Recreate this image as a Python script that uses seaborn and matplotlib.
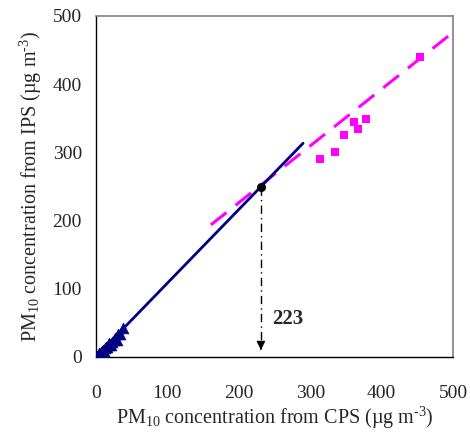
import matplotlib
matplotlib.use("Agg")
import matplotlib.pyplot as plt
import seaborn as sns
import numpy as np
import pandas as pd

# ---- data ----
low_cps = [2, 4, 5, 6, 7, 9, 10, 11, 13, 14, 16, 18, 19, 21, 23, 25, 27, 29, 31, 34, 38]
low_ips = [1, 3, 5, 4, 7, 8, 10, 9, 13, 15, 14, 18, 20, 17, 22, 25, 27, 25, 34, 33, 43]
high_cps = [314, 335, 348, 361, 367, 378, 454]
high_ips = [290, 300, 325, 345, 334, 349, 440]
low_fit = (1.08, 0.0, 0, 290)      # slope, intercept, x range
high_fit = (0.833, 59.4, 161, 505)
cross_x, cross_y = 231, 249
cross_label = "223"
ticks = [0, 100, 200, 300, 400, 500]

sns.set_style("white")
plt.rcParams['font.family'] = ['Liberation Serif', 'DejaVu Serif']
plt.rcParams['mathtext.fontset'] = 'custom'
plt.rcParams['mathtext.rm'] = 'Liberation Serif'
plt.rcParams['mathtext.it'] = 'Liberation Serif:italic'

fig = plt.figure(figsize=(4.7, 4.4), dpi=100)
ax = fig.add_axes([0.204, 0.189, 0.76, 0.775])

navy = "#000080"
pink = "#FF00FF"

# fit lines
xl = np.array([low_fit[2], low_fit[3]])
sns.lineplot(x=xl, y=low_fit[0] * xl + low_fit[1], ax=ax, color=navy, lw=2, zorder=3)
xh = np.array([high_fit[2], high_fit[3]])
ax.plot(xh, high_fit[0] * xh + high_fit[1], color=pink, lw=2.2,
        dashes=(6.5, 3.8), zorder=2, clip_on=False)

df_low = pd.DataFrame({"x": low_cps, "y": low_ips})
df_high = pd.DataFrame({"x": high_cps, "y": high_ips})
sns.scatterplot(data=df_low, x="x", y="y", ax=ax, marker="^", s=60,
                color=navy, edgecolor=navy, linewidth=0.5, zorder=4)
sns.scatterplot(data=df_high, x="x", y="y", ax=ax, marker="s", s=40,
                color=pink, edgecolor=pink, linewidth=0, zorder=4)

# intersection point and arrow
ax.plot([cross_x], [cross_y], 'o', color='black', ms=5.5, zorder=5)
ax.plot([cross_x, cross_x], [cross_y, 14], color='black', lw=1,
        linestyle=(0, (6, 3, 1, 3)), zorder=4)
ax.annotate("", xy=(cross_x, 6), xytext=(cross_x, 16),
            arrowprops=dict(arrowstyle="-|>,head_width=0.25,head_length=0.5",
                            color="black", lw=1))
ax.text(cross_x + 16, 56, cross_label, fontsize=15, fontweight='bold',
        ha='left', va='center')

ax.set_xlim(0, 500)
ax.set_ylim(0, 500)
ax.set_xticks(ticks)
ax.set_yticks(ticks)
ax.tick_params(axis='both', direction='out', length=5, width=1, color='black',
               labelsize=14, pad=5)
ax.tick_params(axis='x', pad=15)
for s in ['left', 'bottom']:
    ax.spines[s].set_color('black')
    ax.spines[s].set_linewidth(1)
for s in ['top', 'right']:
    ax.spines[s].set_color('#808080')
    ax.spines[s].set_linewidth(1.2)

ax.set_xlabel(r"PM$_{10}$ concentration from CPS (µg m$^{\text{-3}}$)", fontsize=14.5, labelpad=2)
ax.set_ylabel(r"PM$_{10}$ concentration from IPS (µg m$^{\text{-3}}$)", fontsize=14.5, labelpad=6)

fig.savefig("out.png", dpi=100)
